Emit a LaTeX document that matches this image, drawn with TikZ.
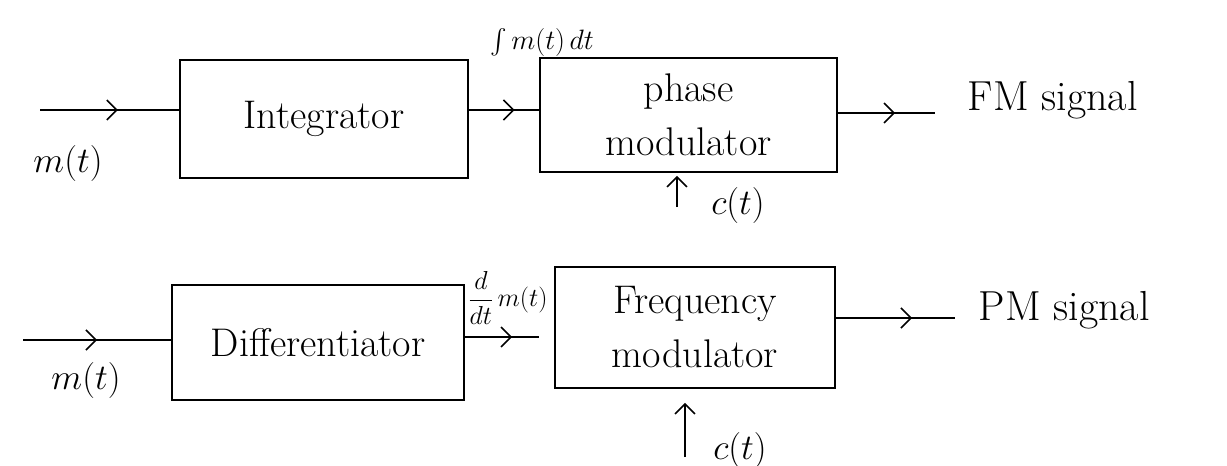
\RequirePackage{fix-cm}
\documentclass[tikz,border=0pt]{standalone}
\usepackage{exscale}
\usetikzlibrary{arrows.meta,decorations.markings}
\begin{document}
\begin{tikzpicture}[x=1pt,y=-1pt,
  line width=1.6pt,
  blk/.style={draw, rectangle, inner sep=0pt, align=center, font=\fontsize{40}{54}\selectfont},
  lbl/.style={inner sep=0pt, font=\fontsize{36}{42}\selectfont},
  sig/.style={inner sep=0pt, font=\fontsize{42}{46}\selectfont},
  small/.style={inner sep=0pt, font=\fontsize{28}{32}\selectfont},
  midarrow/.style={postaction={decorate}, decoration={markings, mark=at position #1 with {\arrow{Straight Barb[length=10pt,width=20pt,line width=1.6pt]}}}},
  midarrow/.default=0.55,
  upar/.style={-{Straight Barb[length=10pt,width=20pt]}}
]
\useasboundingbox (0,0) rectangle (1227,466);

% top row
\node[blk, minimum width=288pt, minimum height=118pt] (int) at (324,119) {Integrator};
\node[blk, minimum width=297pt, minimum height=114pt] (pm) at (688.5,115) {phase\\modulator};
\coordinate (in1) at (40,110);
\coordinate (out1) at (935,113);
\coordinate (c1) at (677,207);
\draw[midarrow=0.56] (in1) -- (in1 -| int.west);
\draw[midarrow=0.65] (int.east |- in1) -- (pm.west |- in1);
\draw[midarrow=0.59] (pm.east |- out1) -- (out1);
\draw[upar, shorten >=3pt] (c1) -- (c1 |- pm.south);

\node[lbl] (m1) at (68,163) {$m(t)$};
\node[small] (intl) at (542,42) {$\int m(t)\,dt$};
\node[lbl] (c1l) at (738,205) {$c(t)$};
\node[sig, anchor=west] (fm) at (967,100) {FM signal};

% bottom row
\node[blk, minimum width=292pt, minimum height=115pt] (dif) at (318,342.5) {Differentiator};
\node[blk, minimum width=280pt, minimum height=121pt] (fq) at (695,327.5) {Frequency\\modulator};
\coordinate (in2) at (23,340);
\coordinate (mid2) at (465,337);
\coordinate (out2) at (955,318);
\coordinate (c2) at (685,457);
\draw[midarrow=0.5] (in2) -- (in2 -| dif.west);
\draw[midarrow=0.53, shorten >=15pt] (dif.east |- mid2) -- (fq.west |- mid2);
\draw[midarrow=0.64] (fq.east |- out2) -- (out2);
\draw[upar, shorten >=14pt] (c2) -- (c2 |- fq.south);

\node[lbl] (m2) at (86,380) {$m(t)$};
\node[inner sep=0pt, font=\fontsize{26}{30}\selectfont] (dl) at (508,298) {$\displaystyle\frac{d}{dt}\,m(t)$};
\node[lbl] (c2l) at (740,450) {$c(t)$};
\node[sig, anchor=west] (pmsig) at (978,310) {PM signal};
\end{tikzpicture}
\end{document}
